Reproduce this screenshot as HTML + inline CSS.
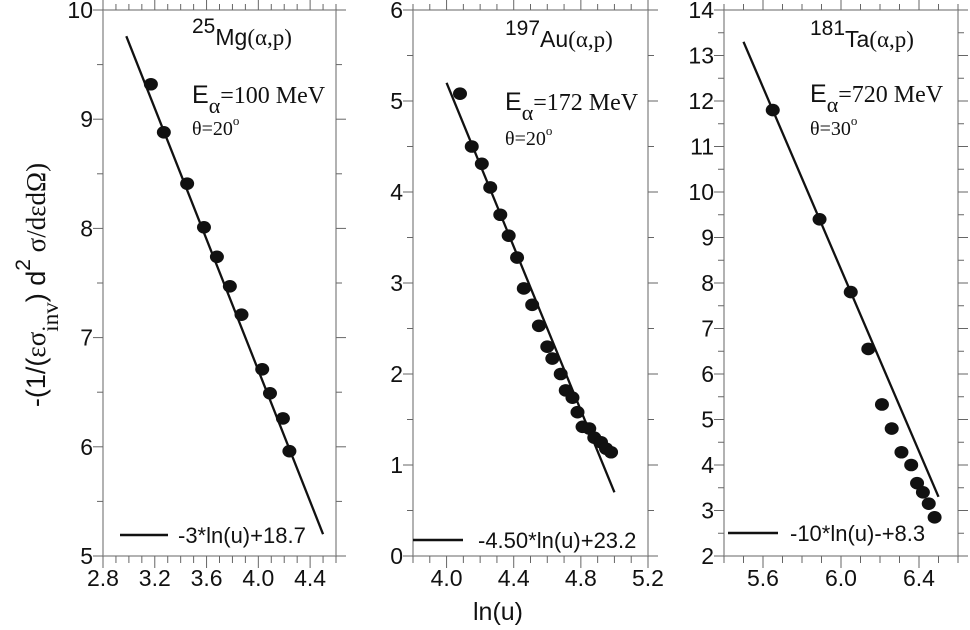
<!DOCTYPE html>
<html><head><meta charset="utf-8"><style>
body{margin:0;background:#fff}
svg{display:block;font-family:"Liberation Sans",Arial,sans-serif;fill:#111}
.s{font-family:"Liberation Serif",serif}
</style></head><body>
<svg id="c" width="970" height="630" viewBox="0 0 970 630" xmlns="http://www.w3.org/2000/svg">
<text transform="translate(45,285) rotate(-90)" text-anchor="middle" font-size="27">-(1/(<tspan class="s">εσ</tspan><tspan dy="13" font-size="23" class="s">inv</tspan><tspan dy="-13">)  d</tspan><tspan dy="-15" font-size="21">2</tspan><tspan dy="15" class="s"> σ/dεdΩ)</tspan></text>
<text x="498" y="620" text-anchor="middle" font-size="25">ln(u)</text>
</svg>
<script>
const p1X=[3.17,3.27,3.45,3.58,3.68,3.78,3.87,4.03,4.09,4.19,4.24];
const p1Y=[9.32,8.88,8.41,8.01,7.74,7.47,7.21,6.71,6.49,6.26,5.96];
const p1Fit=[-3,18.7,2.98,4.5];
const p2X=[4.08,4.15,4.21,4.26,4.32,4.37,4.42,4.46,4.51,4.55,4.6,4.63,4.68,4.71,4.75,4.78,4.81,4.85,4.88,4.92,4.95,4.98];
const p2Y=[5.08,4.5,4.31,4.05,3.75,3.52,3.28,2.94,2.76,2.53,2.3,2.17,2.0,1.82,1.74,1.58,1.42,1.4,1.3,1.25,1.18,1.14];
const p2Fit=[-4.5,23.2,4.0,5.0];
const p3X=[5.65,5.89,6.05,6.14,6.21,6.26,6.31,6.36,6.39,6.42,6.45,6.48];
const p3Y=[11.8,9.4,7.8,6.55,5.33,4.8,4.28,4.0,3.6,3.4,3.15,2.85];
const p3Fit=[-10,68.3,5.5,6.5];
const p1XTicks=["2.8","3.2","3.6","4.0","4.4"];
const p2XTicks=["4.0","4.4","4.8","5.2"];
const p3XTicks=["5.6","6.0","6.4"];
const legends=["-3*ln(u)+18.7","-4.50*ln(u)+23.2","-10*ln(u)-+8.3"];

const svg=document.getElementById('c');
const NS="http://www.w3.org/2000/svg";
function mk(t,a,parent){const e=document.createElementNS(NS,t);for(const k in a)e.setAttribute(k,a[k]);(parent||svg).appendChild(e);return e;}

const panels=[
 {L:103,R:336,T:10,B:556,x0:2.8,x1:4.6,y0:5,y1:10,ymin:0.5,xt:p1XTicks,X:p1X,Y:p1Y,fit:p1Fit,leg:[120,168,535,178],
  ann:[192,"25","Mg","100",103,135,45]},
 {L:413,R:648,T:10,B:556,x0:3.8,x1:5.2,y0:0,y1:6,ymin:0.5,xt:p2XTicks,X:p2X,Y:p2Y,fit:p2Fit,leg:[413,463,540,478],
  ann:[505,"197","Au","172",110,145,47]},
 {L:724,R:958,T:10,B:556,x0:5.4,x1:6.6,y0:2,y1:14,ymin:0.5,xt:p3XTicks,X:p3X,Y:p3Y,fit:p3Fit,leg:[728,778,533,790],
  ann:[810,"181","Ta","720",102,135,47]}
];
panels.forEach((p,i)=>{
 const g=mk('g',{});
 
 
 const sx=v=>p.L+(v-p.x0)/(p.x1-p.x0)*(p.R-p.L);
 const sy=v=>p.B-(v-p.y0)/(p.y1-p.y0)*(p.B-p.T);
 const fr=mk('rect',{x:p.L,y:p.T,width:p.R-p.L,height:p.B-p.T,fill:'none',stroke:'#888','stroke-width':1.3},g);
 
 
 for(let v=p.y0;v<=p.y1+1e-9;v+=p.ymin){
  const maj=Math.abs(v-Math.round(v))<1e-6, y=sy(v), l=maj?10:6;
  mk('line',{x1:p.L-l,x2:p.L,y1:y,y2:y,stroke:'#666','stroke-width':1},g);
  mk('line',{x1:p.R,x2:p.R+l,y1:y,y2:y,stroke:'#666','stroke-width':1},g);
  if(maj){const t=mk('text',{x:p.L-10,y:y+8,'text-anchor':'end','font-size':23},g);t.textContent=Math.round(v);
   }
 }
 const start=Math.ceil(p.x0*10-1e-6)/10;
 for(let v=start;v<=p.x1+1e-6;v+=0.1){
  const x=sx(v);const k=Math.round(v*10);const maj=k%4===0;const l=maj?12:7;
  mk('line',{x1:x,x2:x,y1:p.B,y2:p.B+l,stroke:'#666','stroke-width':1},g);
  mk('line',{x1:x,x2:x,y1:p.T-(maj?10:6),y2:p.T,stroke:'#666','stroke-width':1},g);
 }
 p.xt.forEach(s=>{const t=mk('text',{x:sx(parseFloat(s)),y:p.B+30,'text-anchor':'middle','font-size':23},g);t.textContent=s;
  });
 const f=p.fit;
 const fl=mk('line',{x1:sx(f[2]),y1:sy(f[0]*f[2]+f[1]),x2:sx(f[3]),y2:sy(f[0]*f[3]+f[1]),stroke:'#111','stroke-width':2.3},g);
 
 
 p.X.forEach((xv,j)=>{const c=mk('ellipse',{cx:sx(xv),cy:sy(p.Y[j]),rx:7,ry:6.3,fill:'#111'},g);
  });
 const lg=p.leg;
 const ll=mk('line',{x1:lg[0],x2:lg[1],y1:lg[2],y2:lg[2],stroke:'#111','stroke-width':2.5},g);
 
 const lt=mk('text',{x:lg[3],y:lg[2]+8,'font-size':22},g);lt.textContent=legends[i];
 
 const a=p.ann;
 const t1=mk('text',{x:a[0],y:a[6]-12,'font-size':21},g);
 t1.innerHTML=a[1]+'<tspan dy="12" font-size="23">'+a[2]+'</tspan><tspan class="s" font-size="23">(α,p)</tspan>';
 
 const t2=mk('text',{x:a[0],y:a[4],'font-size':25},g);
 t2.innerHTML='E<tspan dy="10" class="s" font-size="22">α</tspan><tspan dy="-10" class="s" font-size="24">='+a[3]+' MeV</tspan>';
 
 const t3=mk('text',{x:a[0],y:a[5],'font-size':20,class:'s'},g);
 t3.innerHTML='θ='+(i===2?'30':'20')+'<tspan dy="-10" font-size="13">o</tspan>';
 
});
</script>
</body></html>
